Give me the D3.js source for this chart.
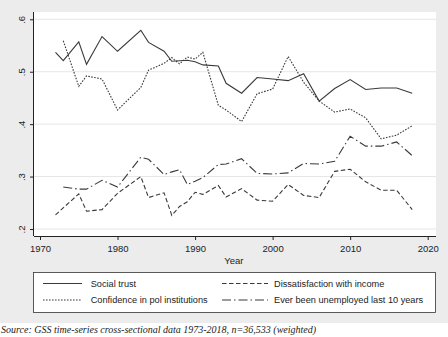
<!DOCTYPE html>
<html>
<head>
<meta charset="utf-8">
<script src="https://cdn.jsdelivr.net/npm/d3@7"></script>
<style>
  body { margin: 0; background: #fff; }
  svg { display: block; }
</style>
</head>
<body>
<div id="vis-holder"></div>
<script>
// survey years (GSS waves), nulls where a series has no point
const years = [1972, 1973, 1975, 1976, 1978, 1980, 1983, 1984, 1986, 1987, 1988, 1989, 1990, 1991,
               1993, 1994, 1996, 1998, 2000, 2002, 2004, 2006, 2008, 2010, 2012, 2014, 2016, 2018];

const socialTrust = [0.537, 0.521, 0.557, 0.514, 0.567, 0.539, 0.579, 0.556, 0.539, 0.520, 0.521, 0.522, 0.519, 0.513,
                     0.511, 0.478, 0.459, 0.489, 0.486, 0.483, 0.496, 0.444, 0.468, 0.485, 0.466, 0.469, 0.469, 0.459];
const confidence = [null, 0.559, 0.472, 0.492, 0.486, 0.427, 0.470, 0.503, 0.516, 0.527, 0.515, 0.528, 0.524, 0.537,
                    0.436, 0.427, 0.405, 0.458, 0.467, 0.529, 0.480, 0.444, 0.423, 0.429, 0.412, 0.372, 0.379, 0.397];
const dissatisfaction = [0.227, null, 0.267, 0.234, 0.237, 0.268, 0.300, 0.260, 0.269, 0.226, 0.243, 0.252, 0.270, 0.266,
                         0.283, 0.261, 0.277, 0.255, 0.253, 0.285, 0.264, 0.260, 0.310, 0.314, 0.290, 0.274, 0.274, 0.237];
const unemployed = [null, 0.280, 0.276, 0.276, 0.293, 0.280, 0.337, 0.333, 0.304, 0.309, 0.313, 0.285, 0.291, 0.298,
                    0.323, 0.324, 0.334, 0.306, 0.305, 0.307, 0.325, 0.324, 0.329, 0.377, 0.358, 0.358, 0.366, 0.340];

const seriesNames = ["Social trust", "Dissatisfaction with income",
                     "Confidence in pol institutions", "Ever been unemployed last 10 years"];
const xTicks = [1970, 1980, 1990, 2000, 2010, 2020];
const yTicks = [0.2, 0.3, 0.4, 0.5, 0.6];

const width = 448, height = 337;
const lineColor = "#3a3a3a";

const series = [
  { name: seriesNames[0], values: socialTrust, dash: null },
  { name: seriesNames[1], values: dissatisfaction, dash: "4.5,2.5" },
  { name: seriesNames[2], values: confidence, dash: "1.6,1.4" },
  { name: seriesNames[3], values: unemployed, dash: "9,3,1.5,3" }
];

const svg = d3.select("#vis-holder")
  .append("svg")
  .attr("width", width)
  .attr("height", height)
  .style("font-family", "'Liberation Sans', Arial, sans-serif");

// grey graph region, white strip at the bottom for the note
svg.append("rect").attr("x", 0).attr("y", 0).attr("width", width).attr("height", 323).attr("fill", "#ececec");

const x = d3.scaleLinear().domain([1970, 2020]).range([40, 427.7]);
const y = d3.scaleLinear().domain([0.2, 0.6]).range([229, 19.3]);

const plotLeft = 34, plotRight = 436, plotTop = 12, plotBottom = 236;

svg.append("rect")
  .attr("x", plotLeft).attr("y", plotTop)
  .attr("width", plotRight - plotLeft).attr("height", plotBottom - plotTop)
  .attr("fill", "#fff");

// gridlines
svg.append("g")
  .selectAll("line")
  .data(yTicks)
  .join("line")
  .attr("x1", plotLeft).attr("x2", plotRight)
  .attr("y1", d => y(d)).attr("y2", d => y(d))
  .attr("stroke", "#e6e6e6")
  .attr("stroke-width", 1);

// axes
const xAxis = svg.append("g")
  .attr("transform", `translate(0, ${plotBottom})`)
  .call(d3.axisBottom(x).tickValues(xTicks).tickFormat(d3.format("d")).tickSize(4).tickSizeOuter(0))
  .attr("font-size", "9.5px")
  .attr("font-family", "'Liberation Sans', Arial, sans-serif");
xAxis.select(".domain").attr("d", `M${plotLeft},0.5H${plotRight}`).attr("stroke", "#222");
xAxis.selectAll(".tick line").attr("stroke", "#222");
xAxis.selectAll(".tick text").attr("fill", "#222").attr("dy", "0.9em");

const yAxis = svg.append("g")
  .attr("transform", `translate(${plotLeft}, 0)`)
  .call(d3.axisLeft(y).tickValues(yTicks).tickFormat(d => d3.format(".1f")(d).replace(/^0/, "")).tickSize(4).tickSizeOuter(0))
  .attr("font-size", "9.5px")
  .attr("font-family", "'Liberation Sans', Arial, sans-serif");
yAxis.select(".domain").attr("d", `M-0.5,${plotTop}V${plotBottom}`).attr("stroke", "#222");
yAxis.selectAll(".tick line").attr("stroke", "#222");
yAxis.selectAll(".tick text")
  .attr("fill", "#222")
  .attr("x", 0).attr("dy", 0)
  .attr("text-anchor", "middle")
  .attr("transform", "translate(-9, 0) rotate(-90)");

svg.append("text")
  .attr("x", (x(1970) + x(2020)) / 2)
  .attr("y", 263.5)
  .attr("text-anchor", "middle")
  .attr("font-size", "9.5px")
  .attr("fill", "#222")
  .text("Year");

// series lines
const line = d3.line()
  .x(d => x(d.year))
  .y(d => y(d.value));

svg.append("g")
  .selectAll("path")
  .data(series)
  .join("path")
  .attr("d", s => line(years.map((yr, i) => ({ year: yr, value: s.values[i] })).filter(d => d.value !== null)))
  .attr("fill", "none")
  .attr("stroke", lineColor)
  .attr("stroke-width", 1.1)
  .attr("stroke-dasharray", s => s.dash);

// legend
const legend = svg.append("g");
legend.append("rect")
  .attr("x", 33.5).attr("y", 272.5)
  .attr("width", 402).attr("height", 40)
  .attr("fill", "#fff")
  .attr("stroke", "#333")
  .attr("stroke-width", 0.8);

const legendItems = legend.selectAll("g.item")
  .data(series)
  .join("g")
  .attr("class", "item")
  .attr("transform", (d, i) => `translate(${i % 2 === 0 ? 43 : 222}, ${i < 2 ? 283.5 : 300})`);

legendItems.append("line")
  .attr("x1", 0).attr("x2", (d, i) => i % 2 === 0 ? 39 : 46)
  .attr("y1", 0).attr("y2", 0)
  .attr("stroke", lineColor)
  .attr("stroke-width", 1.1)
  .attr("stroke-dasharray", d => d.dash);

legendItems.append("text")
  .attr("x", (d, i) => i % 2 === 0 ? 47.7 : 52)
  .attr("y", 0)
  .attr("dy", "0.35em")
  .attr("font-size", "9.2px")
  .attr("fill", "#222")
  .text(d => d.name);

svg.append("text")
  .attr("x", 1)
  .attr("y", 333)
  .attr("font-family", "'Liberation Serif', 'Times New Roman', serif")
  .attr("font-style", "italic")
  .attr("font-size", "10px")
  .attr("fill", "#222")
  .text("Source: GSS time-series cross-sectional data 1973-2018, n=36,533 (weighted)");
</script>
</body>
</html>
